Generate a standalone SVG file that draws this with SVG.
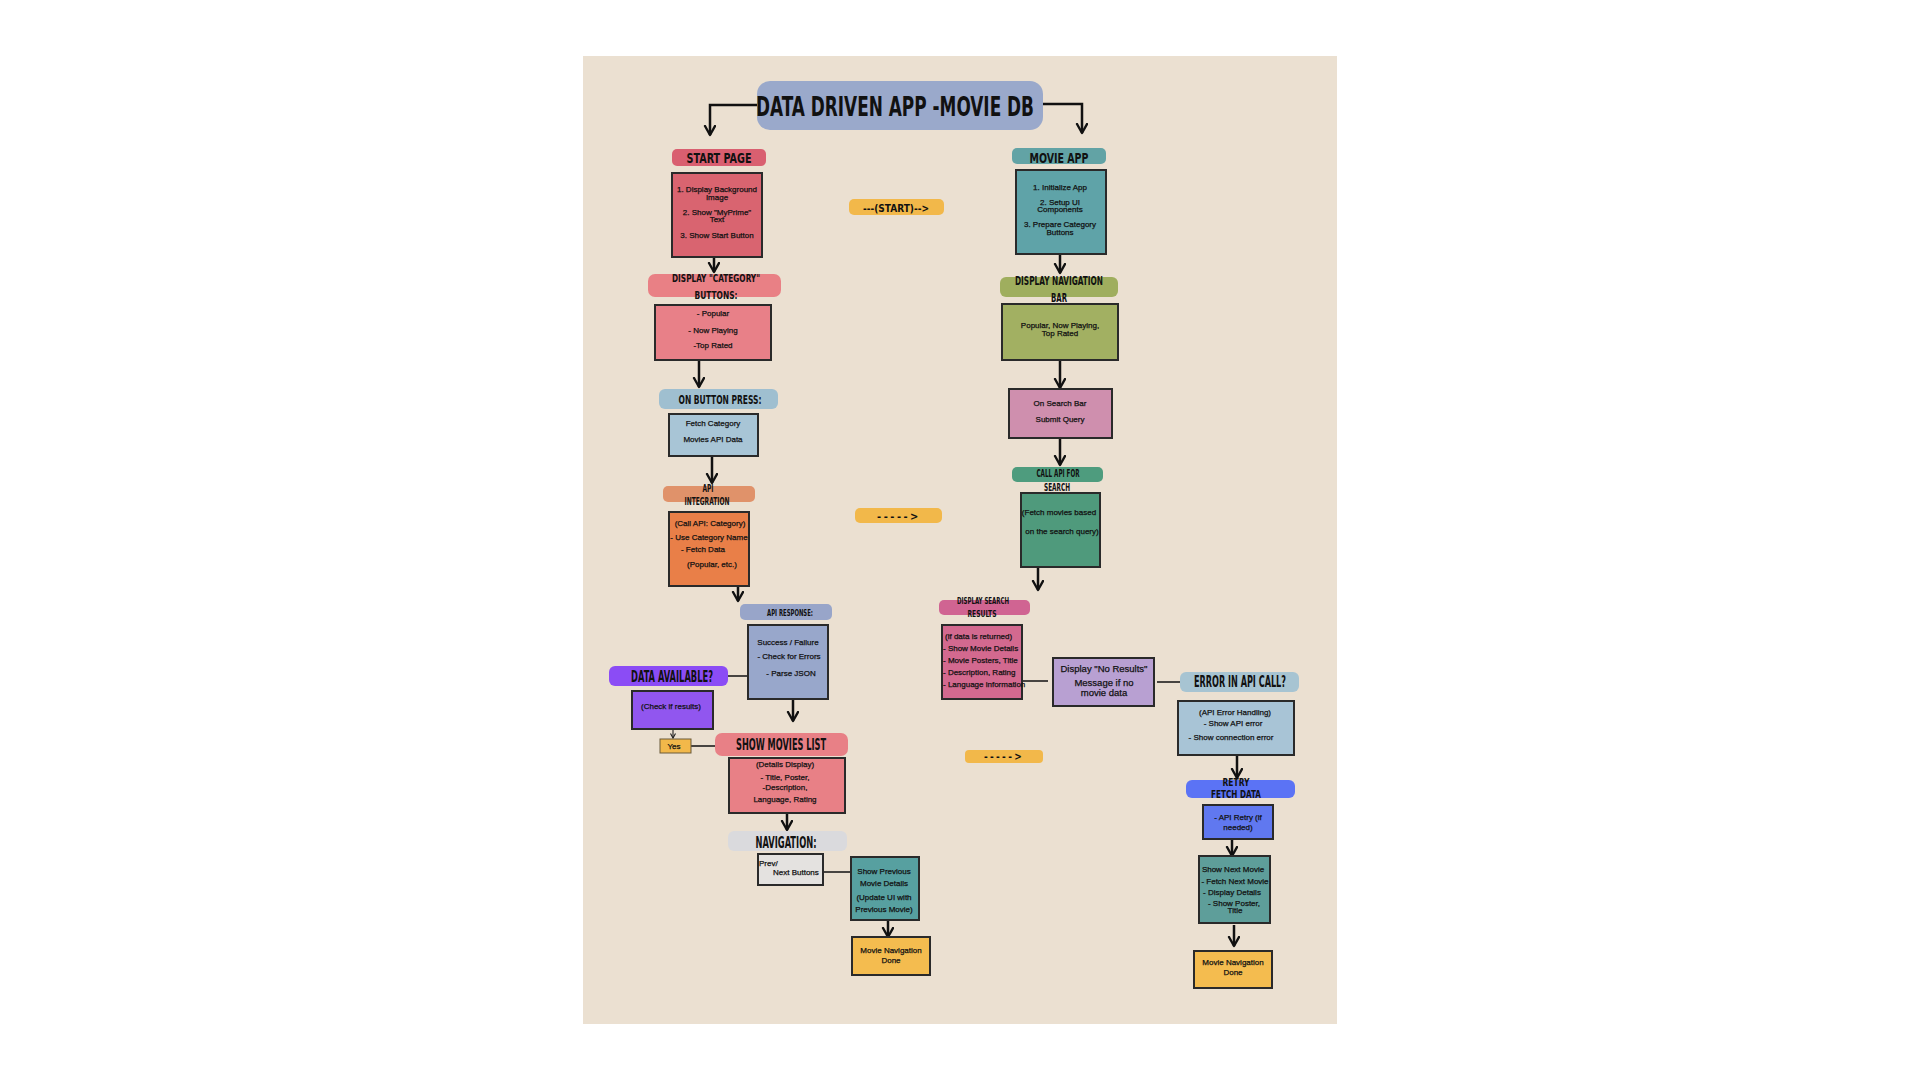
<svg xmlns="http://www.w3.org/2000/svg" width="1920" height="1080" viewBox="0 0 1920 1080">
<defs>
<marker id="ah" markerUnits="userSpaceOnUse" markerWidth="14" markerHeight="14" refX="10" refY="6" orient="auto">
<path d="M1,1 L10,6 L1,11" fill="none" stroke="#111" stroke-width="2.4" stroke-linecap="round" stroke-linejoin="round"/>
</marker>
<marker id="ahs" markerUnits="userSpaceOnUse" markerWidth="8" markerHeight="8" refX="5" refY="3" orient="auto">
<path d="M0.5,0.5 L5,3 L0.5,5.5" fill="none" stroke="#222" stroke-width="1.1"/>
</marker>
</defs>
<style>
.lbl{font-family:"DejaVu Sans Condensed","DejaVu Sans",sans-serif;font-weight:bold;fill:#111;text-anchor:middle}
.t{font-family:"Liberation Sans","DejaVu Sans",sans-serif;font-size:8px;fill:#111;stroke:#111;stroke-width:0.25;text-anchor:middle}
.ts{font-family:"Liberation Sans","DejaVu Sans",sans-serif;font-size:8px;fill:#111;stroke:#111;stroke-width:0.25;text-anchor:start}
.tb{font-family:"Liberation Sans","DejaVu Sans",sans-serif;font-size:9.5px;fill:#111;stroke:#111;stroke-width:0.25;text-anchor:middle}
.box{stroke:#2a2a2a;stroke-width:2}
.conn{stroke:#111;stroke-width:2.5;fill:none;marker-end:url(#ah)}
.ln{stroke:#111;stroke-width:1.5;fill:none}
</style>
<rect x="0" y="0" width="1920" height="1080" fill="#ffffff"/>
<rect x="583" y="56" width="754" height="968" fill="#ebe0d1"/>

<g id="connectors">
<path class="conn" d="M757,105 L710,105 L710,135"/>
<path class="conn" d="M1043,104 L1082,104 L1082,133"/>
<path class="conn" d="M714,246 L714,272"/>
<path class="conn" d="M699,360 L699,387"/>
<path class="conn" d="M712,456 L712,483"/>
<path class="conn" d="M738,566 L738,601"/>
<path class="conn" d="M793,699 L793,721"/>
<path class="ln" d="M718,676 L748,676"/>
<path stroke="#222" stroke-width="1.1" fill="none" marker-end="url(#ahs)" d="M673,729 L673,738"/>
<path class="ln" d="M691,746 L715,746"/>
<path class="conn" d="M787,813 L787,830"/>
<path class="ln" d="M823,872 L851,872"/>
<path class="conn" d="M888,920 L888,937"/>
<path class="conn" d="M1060,246 L1060,273"/>
<path class="conn" d="M1060,360 L1060,388"/>
<path class="conn" d="M1060,438 L1060,465"/>
<path class="conn" d="M1038,567 L1038,590"/>
<path class="ln" d="M1022,681 L1048,681"/>
<path class="ln" d="M1157,682 L1180,682"/>
<path class="conn" d="M1237,755 L1237,778"/>
<path class="conn" d="M1232,839 L1232,856"/>
<path class="conn" d="M1234,925 L1234,946"/>
</g>

<g id="title">
<rect x="757" y="81" width="286" height="49" rx="13" fill="#9aa9cb"/>
<text class="lbl" x="895" y="116" font-size="27" textLength="278" lengthAdjust="spacingAndGlyphs">DATA DRIVEN APP -MOVIE DB</text>
</g>

<g id="start-page">
<rect x="672" y="149" width="94" height="17" rx="5" fill="#d95f70"/>
<text class="lbl" x="719" y="163" font-size="14" textLength="65" lengthAdjust="spacingAndGlyphs">START PAGE</text>
<rect class="box" x="672" y="173" width="90" height="84" fill="#d96470"/>
<text class="t" x="717" y="192">1. Display Background</text>
<text class="t" x="717" y="200">Image</text>
<text class="t" x="717" y="215">2. Show "MyPrime"</text>
<text class="t" x="717" y="222">Text</text>
<text class="t" x="717" y="238">3. Show Start Button</text>
</g>

<g id="start-pill">
<rect x="849" y="199" width="95" height="16" rx="5" fill="#f2b84a"/>
<text class="lbl" x="896" y="212" font-size="11" textLength="66" lengthAdjust="spacingAndGlyphs">---(START)--&gt;</text>
</g>

<g id="display-category">
<rect x="648" y="274" width="133" height="23" rx="7" fill="#e98085"/>
<text class="lbl" x="716" y="282" font-size="11" textLength="88" lengthAdjust="spacingAndGlyphs">DISPLAY "CATEGORY"</text>
<text class="lbl" x="716" y="299" font-size="11" textLength="43" lengthAdjust="spacingAndGlyphs">BUTTONS:</text>
<rect class="box" x="655" y="305" width="116" height="55" fill="#e88088"/>
<text class="t" x="713" y="316">- Popular</text>
<text class="t" x="713" y="333">- Now Playing</text>
<text class="t" x="713" y="348">-Top Rated</text>
</g>

<g id="on-button-press">
<rect x="659" y="389" width="119" height="20" rx="6" fill="#9fbfd0"/>
<text class="lbl" x="720" y="404" font-size="12" textLength="83" lengthAdjust="spacingAndGlyphs">ON BUTTON PRESS:</text>
<rect class="box" x="669" y="414" width="89" height="42" fill="#a8c5d6"/>
<text class="t" x="713" y="426">Fetch Category</text>
<text class="t" x="713" y="442">Movies API Data</text>
</g>

<g id="api-integration">
<rect x="663" y="486" width="92" height="16" rx="5" fill="#e0926a"/>
<text class="lbl" x="708" y="492" font-size="10" textLength="11" lengthAdjust="spacingAndGlyphs">API</text>
<text class="lbl" x="707" y="505" font-size="10" textLength="45" lengthAdjust="spacingAndGlyphs">INTEGRATION</text>
<rect class="box" x="669" y="512" width="80" height="74" fill="#e97f48"/>
<text class="t" x="710" y="526">(Call API: Category)</text>
<text class="t" x="709" y="540">- Use Category Name</text>
<text class="t" x="703" y="552">- Fetch Data</text>
<text class="t" x="712" y="567">(Popular, etc.)</text>
</g>

<g id="dash-pill-1">
<rect x="855" y="508" width="87" height="15" rx="5" fill="#f2b84a"/>
<text class="lbl" x="899" y="520" font-size="11" letter-spacing="2.5">-----&gt;</text>
</g>

<g id="api-response">
<rect x="740" y="604" width="92" height="16" rx="5" fill="#98a5c9"/>
<text class="lbl" x="790" y="616" font-size="9" textLength="46" lengthAdjust="spacingAndGlyphs">API RESPONSE:</text>
<rect class="box" x="748" y="625" width="80" height="74" fill="#98a7cb"/>
<text class="t" x="788" y="645">Success / Failure</text>
<text class="t" x="789" y="659">- Check for Errors</text>
<text class="t" x="791" y="676">- Parse JSON</text>
</g>

<g id="data-available">
<rect x="609" y="666" width="119" height="20" rx="6" fill="#8b4cf5"/>
<text class="lbl" x="672" y="682" font-size="15" textLength="82" lengthAdjust="spacingAndGlyphs">DATA AVAILABLE?</text>
<rect class="box" x="632" y="691" width="81" height="38" fill="#9156ef"/>
<text class="t" x="671" y="709" font-size="9">(Check if results)</text>
</g>

<g id="yes">
<rect x="660" y="739" width="31" height="14" fill="#f2b84a" stroke="#6b5a3a" stroke-width="1"/>
<text class="t" x="674" y="749" font-size="9">Yes</text>
</g>

<g id="show-movies-list">
<rect x="715" y="733" width="133" height="23" rx="7" fill="#e88086"/>
<text class="lbl" x="781" y="750" font-size="15" textLength="90" lengthAdjust="spacingAndGlyphs">SHOW MOVIES LIST</text>
<rect class="box" x="729" y="758" width="116" height="55" fill="#e88086"/>
<text class="t" x="785" y="767">(Details Display)</text>
<text class="t" x="785" y="780">- Title, Poster,</text>
<text class="t" x="785" y="790">-Description,</text>
<text class="t" x="785" y="802">Language, Rating</text>
</g>

<g id="navigation">
<rect x="728" y="831" width="119" height="20" rx="6" fill="#dadadd"/>
<text class="lbl" x="786" y="848" font-size="15" textLength="61" lengthAdjust="spacingAndGlyphs">NAVIGATION:</text>
<rect class="box" x="758" y="854" width="65" height="31" fill="#e4e2e0" stroke="#555" stroke-width="1.5"/>
<text class="ts" x="759" y="866" font-size="7.5">Prev/</text>
<text class="ts" x="773" y="875" font-size="7.5">Next Buttons</text>
</g>

<g id="show-previous">
<rect class="box" x="851" y="857" width="68" height="63" fill="#57a0a0"/>
<text class="t" x="884" y="874" font-size="7.5">Show Previous</text>
<text class="t" x="884" y="886" font-size="7.5">Movie Details</text>
<text class="t" x="884" y="900" font-size="7.5">(Update UI with</text>
<text class="t" x="884" y="912" font-size="7.5">Previous Movie)</text>
</g>

<g id="done-left">
<rect class="box" x="852" y="937" width="78" height="38" fill="#f4bc4f"/>
<text class="t" x="891" y="953" font-size="9">Movie Navigation</text>
<text class="t" x="891" y="963" font-size="9">Done</text>
</g>

<g id="movie-app">
<rect x="1012" y="148" width="94" height="16" rx="5" fill="#62a3a5"/>
<text class="lbl" x="1059" y="163" font-size="14" textLength="59" lengthAdjust="spacingAndGlyphs">MOVIE APP</text>
<rect class="box" x="1016" y="170" width="90" height="84" fill="#5fa3a8"/>
<text class="t" x="1060" y="190">1. Initialize App</text>
<text class="t" x="1060" y="205">2. Setup UI</text>
<text class="t" x="1060" y="212">Components</text>
<text class="t" x="1060" y="227">3. Prepare Category</text>
<text class="t" x="1060" y="235">Buttons</text>
</g>

<g id="display-navigation-bar">
<rect x="1000" y="277" width="118" height="20" rx="6" fill="#9fae5e"/>
<text class="lbl" x="1059" y="285" font-size="12" textLength="88" lengthAdjust="spacingAndGlyphs">DISPLAY NAVIGATION</text>
<text class="lbl" x="1059" y="302" font-size="12" textLength="16" lengthAdjust="spacingAndGlyphs">BAR</text>
<rect class="box" x="1002" y="304" width="116" height="56" fill="#a2b062"/>
<text class="t" x="1060" y="328">Popular, Now Playing,</text>
<text class="t" x="1060" y="336">Top Rated</text>
</g>

<g id="on-search-bar">
<rect class="box" x="1009" y="389" width="103" height="49" fill="#cf8fae"/>
<text class="t" x="1060" y="406">On Search Bar</text>
<text class="t" x="1060" y="422">Submit Query</text>
</g>

<g id="call-api-search">
<rect x="1012" y="467" width="91" height="15" rx="5" fill="#4e9c7e"/>
<text class="lbl" x="1058" y="477" font-size="10" textLength="43" lengthAdjust="spacingAndGlyphs">CALL API FOR</text>
<text class="lbl" x="1057" y="491" font-size="10" textLength="26" lengthAdjust="spacingAndGlyphs">SEARCH</text>
<rect class="box" x="1021" y="493" width="79" height="74" fill="#4f9a7c"/>
<text class="t" x="1059" y="515">(Fetch movies based</text>
<text class="t" x="1062" y="534">on the search query)</text>
</g>

<g id="display-search-results">
<rect x="939" y="600" width="91" height="15" rx="5" fill="#d06492"/>
<text class="lbl" x="983" y="604" font-size="9" textLength="52" lengthAdjust="spacingAndGlyphs">DISPLAY SEARCH</text>
<text class="lbl" x="982" y="617" font-size="9" textLength="29" lengthAdjust="spacingAndGlyphs">RESULTS</text>
<rect class="box" x="942" y="625" width="80" height="74" fill="#d3698f"/>
<text class="ts" x="945" y="639" font-size="7.5">(if data is returned)</text>
<text class="ts" x="943" y="651" font-size="7.5">- Show Movie Details</text>
<text class="ts" x="943" y="663" font-size="7.5">- Movie Posters, Title</text>
<text class="ts" x="943" y="675" font-size="7.5">- Description, Rating</text>
<text class="ts" x="943" y="687" font-size="7.5">- Language information</text>
</g>

<g id="dash-pill-2">
<rect x="965" y="750" width="78" height="13" rx="4" fill="#f2b84a"/>
<text class="lbl" x="1004" y="760" font-size="10" letter-spacing="2.3">-----&gt;</text>
</g>

<g id="no-results">
<rect class="box" x="1053" y="658" width="101" height="48" fill="#b8a0d2"/>
<text class="tb" x="1104" y="672">Display "No Results"</text>
<text class="tb" x="1104" y="686">Message if no</text>
<text class="tb" x="1104" y="696">movie data</text>
</g>

<g id="error-api-call">
<rect x="1180" y="672" width="119" height="20" rx="6" fill="#a7c4d2"/>
<text class="lbl" x="1240" y="687" font-size="15" textLength="92" lengthAdjust="spacingAndGlyphs">ERROR IN API CALL?</text>
<rect class="box" x="1178" y="701" width="116" height="54" fill="#a8c4d6"/>
<text class="t" x="1235" y="715">(API Error Handling)</text>
<text class="t" x="1233" y="726">- Show API error</text>
<text class="t" x="1231" y="740">- Show connection error</text>
</g>

<g id="retry-fetch">
<rect x="1186" y="780" width="109" height="18" rx="6" fill="#5b73f5"/>
<text class="lbl" x="1236" y="786" font-size="11" textLength="27" lengthAdjust="spacingAndGlyphs">RETRY</text>
<text class="lbl" x="1236" y="798" font-size="11" textLength="50" lengthAdjust="spacingAndGlyphs">FETCH DATA</text>
<rect class="box" x="1203" y="805" width="70" height="34" fill="#6078f0"/>
<text class="t" x="1238" y="820">- API Retry (if</text>
<text class="t" x="1238" y="830">needed)</text>
</g>

<g id="show-next-movie">
<rect class="box" x="1199" y="856" width="71" height="67" fill="#5e9e9a"/>
<text class="t" x="1233" y="872">Show Next Movie</text>
<text class="t" x="1235" y="884">- Fetch Next Movie</text>
<text class="t" x="1232" y="895">- Display Details</text>
<text class="t" x="1234" y="906">- Show Poster,</text>
<text class="t" x="1235" y="913">Title</text>
</g>

<g id="done-right">
<rect class="box" x="1194" y="951" width="78" height="37" fill="#f4bc4f"/>
<text class="t" x="1233" y="965" font-size="9">Movie Navigation</text>
<text class="t" x="1233" y="975" font-size="9">Done</text>
</g>
</svg>
